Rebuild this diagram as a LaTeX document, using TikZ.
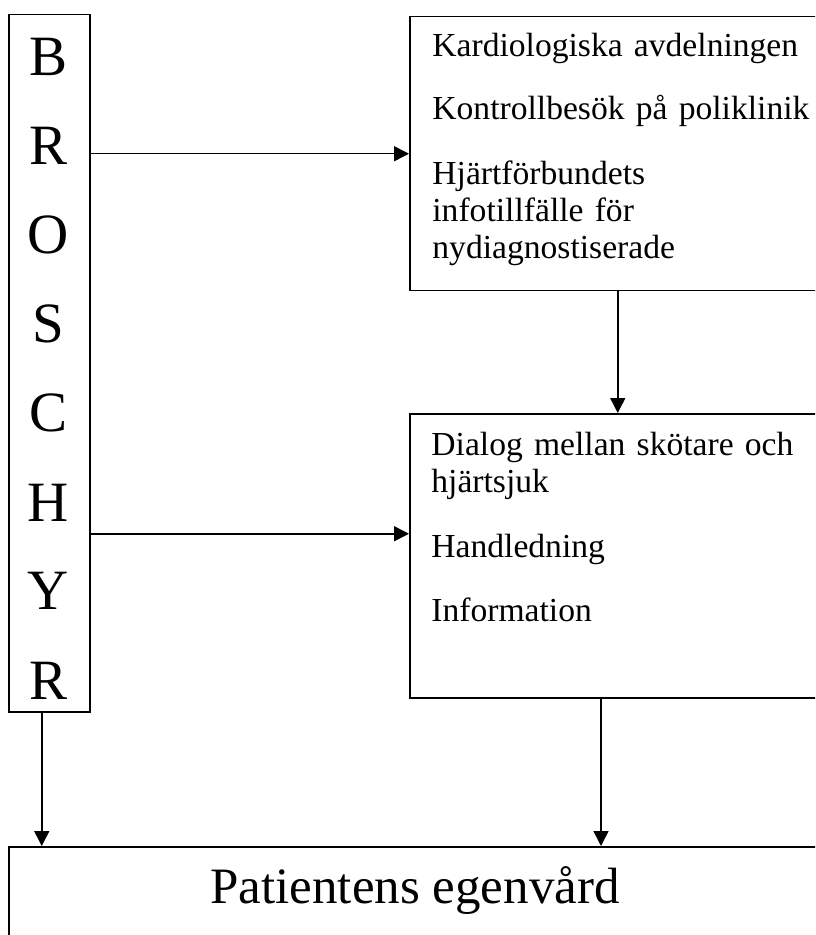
\documentclass[tikz,border=0pt]{standalone}
\usepackage{fontspec}
\setmainfont{Liberation Serif}
\usetikzlibrary{arrows.meta}

\begin{document}
\begin{tikzpicture}[
  x=0.5pt, y=-0.5pt,
  box/.style={draw, line width=0.75pt, anchor=north west, inner sep=0pt},
  boxtext/.style={anchor=base west, inner sep=0pt, align=left, text width=200pt,
    font=\fontsize{16.8}{18.5}\selectfont},
  arr/.style={-{Triangle[length=7.5pt,width=7.5pt]}, line width=0.75pt}
]
\useasboundingbox (0,0) rectangle (815,935);
\clip (0,0) rectangle (815,935);

% left column
\node[box, minimum width=40.5pt, minimum height=348.5pt] (broschyr) at (8,14) {};
\node[anchor=base, inner sep=0pt, align=center, text width=40pt,
  font=\fontsize{28.5}{44.5}\selectfont]
  (broschyrtxt) at (48.5,76) {B\\R\\O\\S\\C\\H\\Y\\R};

% upper right box
\node[box, minimum width=208pt, minimum height=137pt] (kard) at (409,16) {};
\node[boxtext] (kardtxt) at (432,57) {Kardiologiska avdelningen\\[13pt]
  Kontrollbesök på poliklinik\\[14pt]
  Hjärtförbundets\\infotillfälle för\\nydiagnostiserade};

% middle right box
\node[box, minimum width=210pt, minimum height=142pt] (dialog) at (409,413) {};
\node[boxtext] (dialogtxt) at (431,455) {Dialog mellan skötare och\\hjärtsjuk\\[14pt]
  Handledning\\[13.5pt]
  Information};

% bottom box
\node[box, minimum width=411pt, minimum height=60pt] (patient) at (8,846) {};
\node[anchor=base, inner sep=0pt, font=\fontsize{25.5}{30}\selectfont]
  (patienttxt) at (415,903) {Patientens egenvård};

% connectors
\coordinate (d_in) at ([yshift=11pt]dialog.west);
\coordinate (d_out) at ([xshift=96pt]dialog.south west);
\coordinate (b_out) at ([xshift=-3.75pt]broschyr.south);
\draw[arr] (broschyr.east |- kard.west) -- (kard.west);
\draw[arr] (broschyr.east |- d_in) -- (d_in);
\draw[arr] (kard.south) -- (kard.south |- dialog.north);
\draw[arr] (d_out) -- (d_out |- patient.north);
\draw[arr] (b_out) -- (b_out |- patient.north);

\end{tikzpicture}
\end{document}
